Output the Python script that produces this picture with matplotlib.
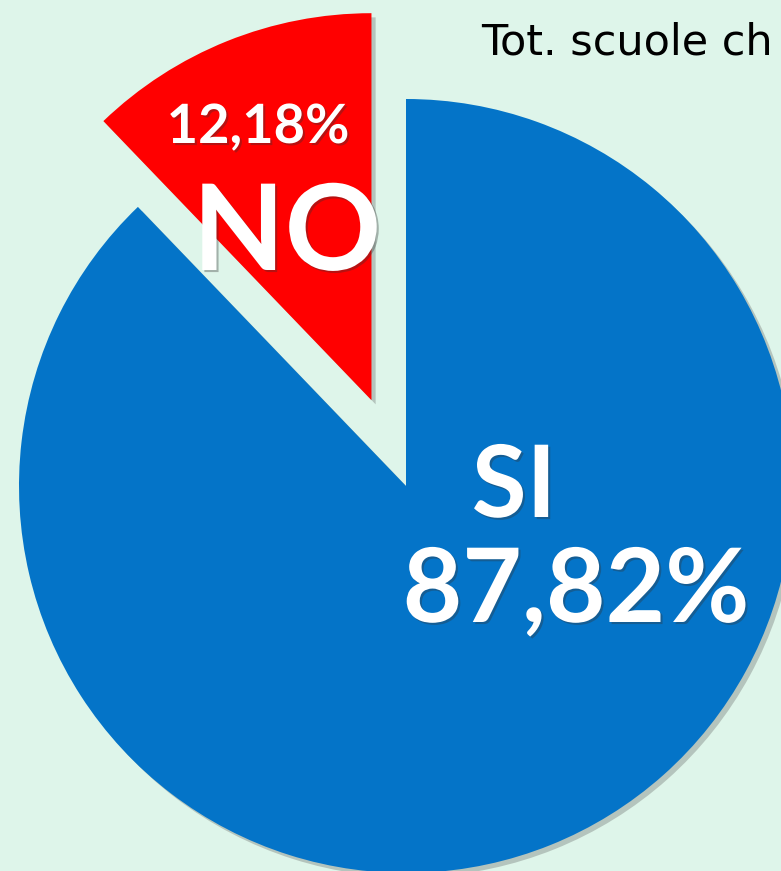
import matplotlib.pyplot as plt
import matplotlib.patheffects as pe

# dati
labels = ['NO', 'SI']
values = [12.18, 87.82]
colors = ['#ff0000', '#0474c8']
explode = [92.5, 0]   # pie() uses explode as an absolute offset here (radius is in pixels)
title = 'Tot. scuole ch'

bg = '#def5ea'

fig = plt.figure(figsize=(7.81, 8.71), dpi=100)
fig.patch.set_facecolor(bg)
ax = fig.add_axes([0, 0, 1, 1])
ax.set_facecolor(bg)

wedges, _ = ax.pie(values, colors=colors, explode=explode, startangle=90,
                   counterclock=True, radius=387, center=(406, 385),
                   wedgeprops=dict(linewidth=0))
for w in wedges:
    w.set_path_effects([pe.SimplePatchShadow(offset=(3, -3), shadow_rgbFace='#555555', alpha=0.3),
                        pe.Normal()])

ax.set_xlim(0, 781)
ax.set_ylim(0, 871)
ax.set_aspect('auto')
ax.axis('off')

shadow = [pe.SimplePatchShadow(offset=(1.5, -1.5), shadow_rgbFace='#333333', alpha=0.35), pe.Normal()]
fnt = ['Lato', 'DejaVu Sans']

# etichette
ax.text(258, 728, '12,18%', color='white', fontsize=39, fontweight='bold', family=fnt,
        ha='center', va='baseline', path_effects=shadow)
ax.text(287, 601, labels[0], color='white', fontsize=86, fontweight='bold', family=fnt,
        ha='center', va='baseline', path_effects=shadow)
ax.text(514, 354, labels[1], color='white', fontsize=72, fontweight='bold', family=fnt,
        ha='center', va='baseline', path_effects=shadow)
ax.text(576, 249, '87,82%', color='white', fontsize=74, fontweight='bold', family=fnt,
        ha='center', va='baseline', path_effects=shadow)

ax.text(481, 816, title, color='black', fontsize=31, family=['DejaVu Sans'],
        ha='left', va='baseline')

fig.savefig('out.png', dpi=100, facecolor=bg)
